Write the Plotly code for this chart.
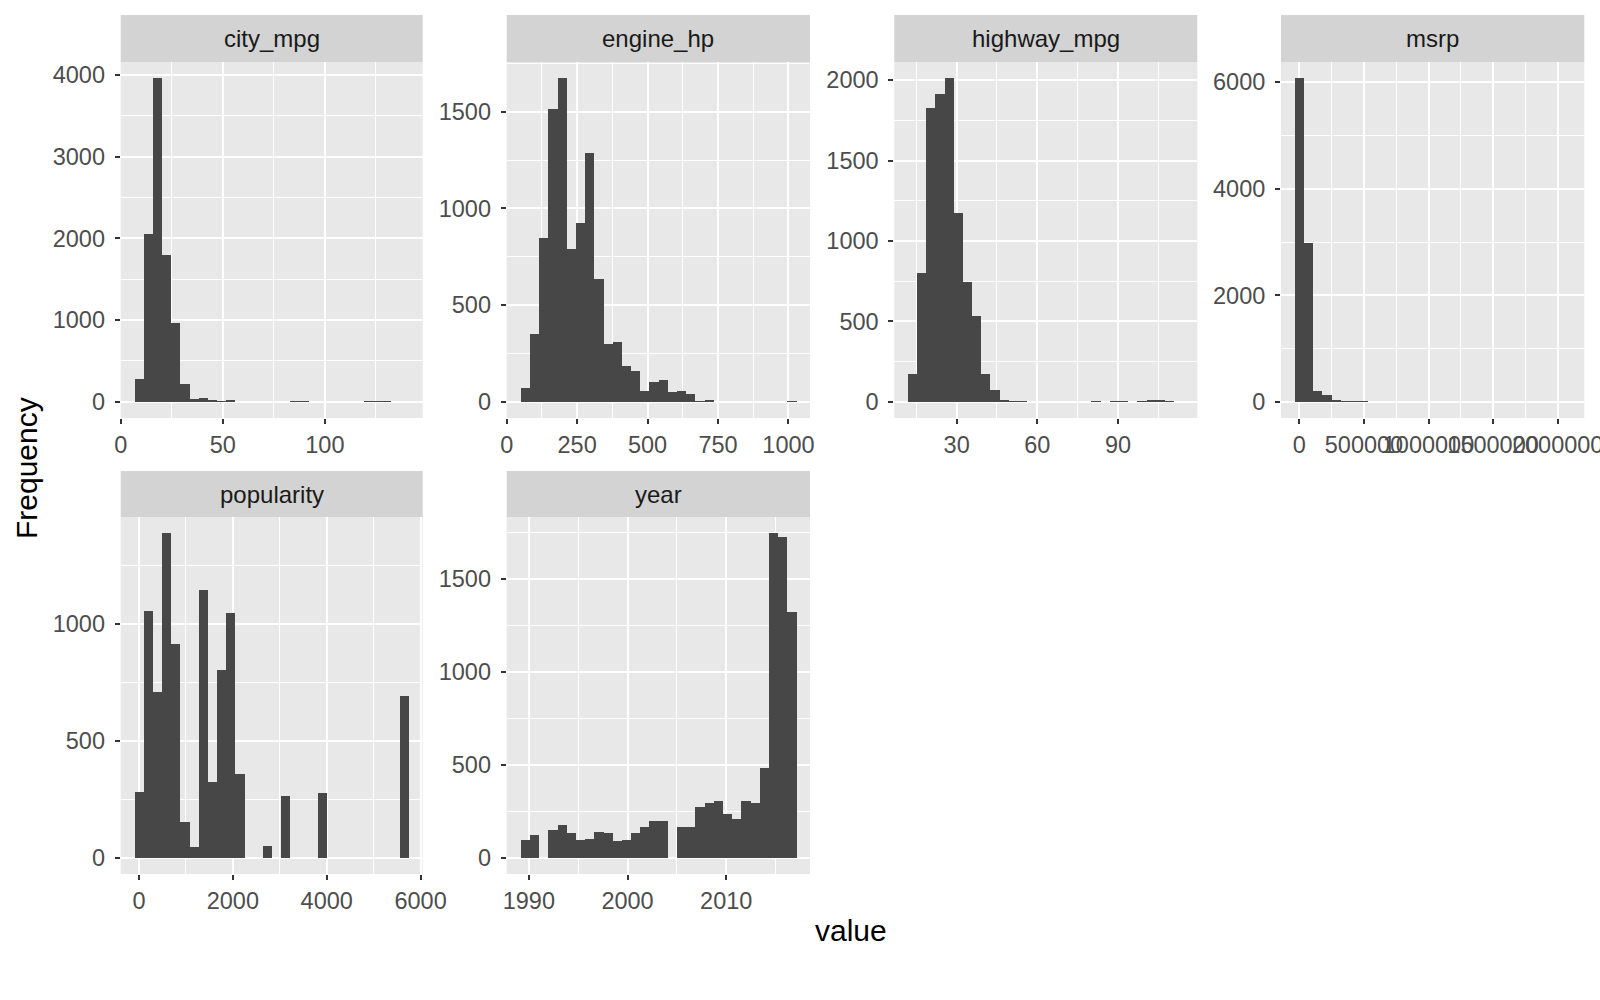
import plotly.graph_objects as go

# ---------------- data ----------------
panel_names = ["city_mpg", "engine_hp", "highway_mpg", "msrp", "popularity", "year"]

# histogram bins: left edge of first bin and bin width (data units), 30 bins each
city_mpg_bin_start, city_mpg_bin_width = 6.724, 4.4828
engine_hp_bin_start, engine_hp_bin_width = 48.93, 32.621
highway_mpg_bin_start, highway_mpg_bin_width = 11.948, 3.4138
msrp_bin_start, msrp_bin_width = -35585.0, 71169.0
popularity_bin_start, popularity_bin_width = -97.5, 195.0
year_bin_start, year_bin_width = 1989.155, 0.93103

city_mpg_counts = [277, 2053, 3959, 1792, 961, 220, 33, 45, 12, 5, 12, 0, 0, 0, 0,
                   0, 0, 3, 3, 0, 0, 0, 0, 0, 0, 3, 3, 3, 0, 0]
engine_hp_counts = [74, 353, 848, 1514, 1674, 791, 927, 1287, 633, 298, 311, 187, 157, 55, 105,
                    115, 50, 55, 38, 3, 9, 0, 0, 0, 0, 0, 0, 0, 0, 3]
highway_mpg_counts = [170, 802, 1826, 1915, 2012, 1175, 747, 532, 176, 72, 14, 4, 4, 0, 0,
                      0, 0, 0, 0, 0, 3, 0, 3, 3, 0, 3, 8, 8, 3, 0]
msrp_counts = [6076, 2985, 194, 131, 37, 6, 6, 5, 0, 0, 0, 0, 0, 0, 0,
               0, 0, 0, 0, 0, 0, 0, 0, 0, 0, 0, 0, 0, 0, 0]
popularity_counts = [281, 1056, 709, 1387, 914, 153, 46, 1143, 324, 803, 1047, 358, 0, 0, 50,
                     0, 264, 0, 0, 0, 277, 0, 0, 0, 0, 0, 0, 0, 0, 690]
year_counts = [93, 125, 0, 147, 174, 133, 95, 100, 138, 133, 88, 93, 133, 163, 195,
               195, 0, 168, 163, 271, 292, 303, 235, 211, 303, 297, 482, 1744, 1722, 1319]

# axis break values
city_mpg_xticks = [0, 50, 100]
city_mpg_yticks = [0, 1000, 2000, 3000, 4000]
engine_hp_xticks = [0, 250, 500, 750, 1000]
engine_hp_yticks = [0, 500, 1000, 1500]
highway_mpg_xticks = [30, 60, 90]
highway_mpg_yticks = [0, 500, 1000, 1500, 2000]
msrp_xticks = [0, 500000, 1000000, 1500000, 2000000]
msrp_yticks = [0, 2000, 4000, 6000]
popularity_xticks = [0, 2000, 4000, 6000]
popularity_yticks = [0, 500, 1000]
year_xticks = [1990, 2000, 2010]
year_yticks = [0, 500, 1000, 1500]

x_title = "value"
y_title = "Frequency"

# ---------------- styling / layout ----------------
W, H = 1600, 1000
FONT = "Liberation Sans, Arial, Helvetica, sans-serif"
BAR = "#474747"
PANEL_BG = "#E8E8E8"
STRIP_BG = "#D3D3D3"
TICK_COL = "#4D4D4D"

cols_px = [(120.7, 422.7), (506.7, 810.0), (894.3, 1197.3), (1281.0, 1584.3)]
rows_px = [(15.0, 62.0, 418.0), (471.0, 517.0, 874.0)]  # strip top, panel top, panel bottom
positions = [(0, 0), (0, 1), (0, 2), (0, 3), (1, 0), (1, 1)]

panels = [
    ("city_mpg", city_mpg_bin_start, city_mpg_bin_width, city_mpg_counts, city_mpg_xticks, city_mpg_yticks),
    ("engine_hp", engine_hp_bin_start, engine_hp_bin_width, engine_hp_counts, engine_hp_xticks, engine_hp_yticks),
    ("highway_mpg", highway_mpg_bin_start, highway_mpg_bin_width, highway_mpg_counts, highway_mpg_xticks, highway_mpg_yticks),
    ("msrp", msrp_bin_start, msrp_bin_width, msrp_counts, msrp_xticks, msrp_yticks),
    ("popularity", popularity_bin_start, popularity_bin_width, popularity_counts, popularity_xticks, popularity_yticks),
    ("year", year_bin_start, year_bin_width, year_counts, year_xticks, year_yticks),
]


def minor_breaks(major):
    step = major[1] - major[0]
    vals = [major[0] - step / 2]
    vals += [(a + b) / 2 for a, b in zip(major[:-1], major[1:])]
    vals.append(major[-1] + step / 2)
    return vals


fig = go.Figure()
layout = dict(
    width=W, height=H, margin=dict(l=0, r=0, t=0, b=0, autoexpand=False),
    paper_bgcolor="white", plot_bgcolor=PANEL_BG, showlegend=False,
    font=dict(family=FONT, color=TICK_COL), bargap=0,
)
shapes, annotations = [], []

for i, (name, start, width, counts, xt, yt) in enumerate(panels):
    k = i + 1
    r, c = positions[i]
    x0, x1 = cols_px[c]
    st, pt, pb = rows_px[r]
    centers = [start + width * (j + 0.5) for j in range(len(counts))]
    fig.add_trace(go.Bar(
        x=centers, y=counts, width=[width] * len(counts),
        marker=dict(color=BAR, line=dict(width=0)),
        xaxis=f"x{k}", yaxis=f"y{k}", hoverinfo="x+y",
    ))
    lo = start
    hi = start + width * len(counts)
    span = hi - lo
    ymax = max(counts)
    common = dict(
        showline=False, zeroline=False, ticks="outside", ticklen=5, tickwidth=2,
        tickcolor="#333333", showgrid=True, gridcolor="white", gridwidth=2,
        tickfont=dict(size=23.5, color=TICK_COL, family=FONT),
        layer="below traces", automargin=False, tickangle=0,
        ticklabeloverflow="allow",
    )
    layout[f"xaxis{k}"] = dict(
        domain=[x0 / W, x1 / W], anchor=f"y{k}",
        range=[lo - 0.05 * span, hi + 0.05 * span],
        tickmode="array", tickvals=xt, ticktext=[str(v) for v in xt],
        minor=dict(tickmode="array", tickvals=minor_breaks(xt), showgrid=True,
                   gridcolor="white", gridwidth=1, ticks=""),
        ticklabelstandoff=1,
        **common,
    )
    layout[f"yaxis{k}"] = dict(
        domain=[1 - pb / H, 1 - pt / H], anchor=f"x{k}",
        range=[-0.05 * ymax, 1.05 * ymax],
        tickmode="array", tickvals=yt, ticktext=[str(v) for v in yt],
        minor=dict(tickmode="array", tickvals=minor_breaks(yt), showgrid=True,
                   gridcolor="white", gridwidth=1, ticks=""),
        ticklabelstandoff=5,
        **common,
    )
    # strip
    shapes.append(dict(type="rect", xref="paper", yref="paper",
                       x0=x0 / W, x1=x1 / W, y0=1 - pt / H, y1=1 - st / H,
                       fillcolor=STRIP_BG, line=dict(width=0), layer="below"))
    annotations.append(dict(text=name, xref="paper", yref="paper",
                            x=(x0 + x1) / 2 / W, y=1 - (st + pt) / 2 / H,
                            xanchor="center", yanchor="middle", showarrow=False,
                            font=dict(size=24, color="#1A1A1A", family=FONT)))

annotations.append(dict(text=x_title, xref="paper", yref="paper",
                        x=851 / W, y=1 - 930 / H, xanchor="center", yanchor="middle",
                        showarrow=False, font=dict(size=30, color="black", family=FONT)))
annotations.append(dict(text=y_title, xref="paper", yref="paper",
                        x=26 / W, y=1 - 468 / H, xanchor="center", yanchor="middle",
                        textangle=-90, showarrow=False,
                        font=dict(size=30, color="black", family=FONT)))

layout["shapes"] = shapes
layout["annotations"] = annotations
fig.update_layout(**layout)

fig.write_html("out.html", config={"displayModeBar": False},
               post_script="document.body.style.margin='0';document.body.style.overflow='hidden';")
